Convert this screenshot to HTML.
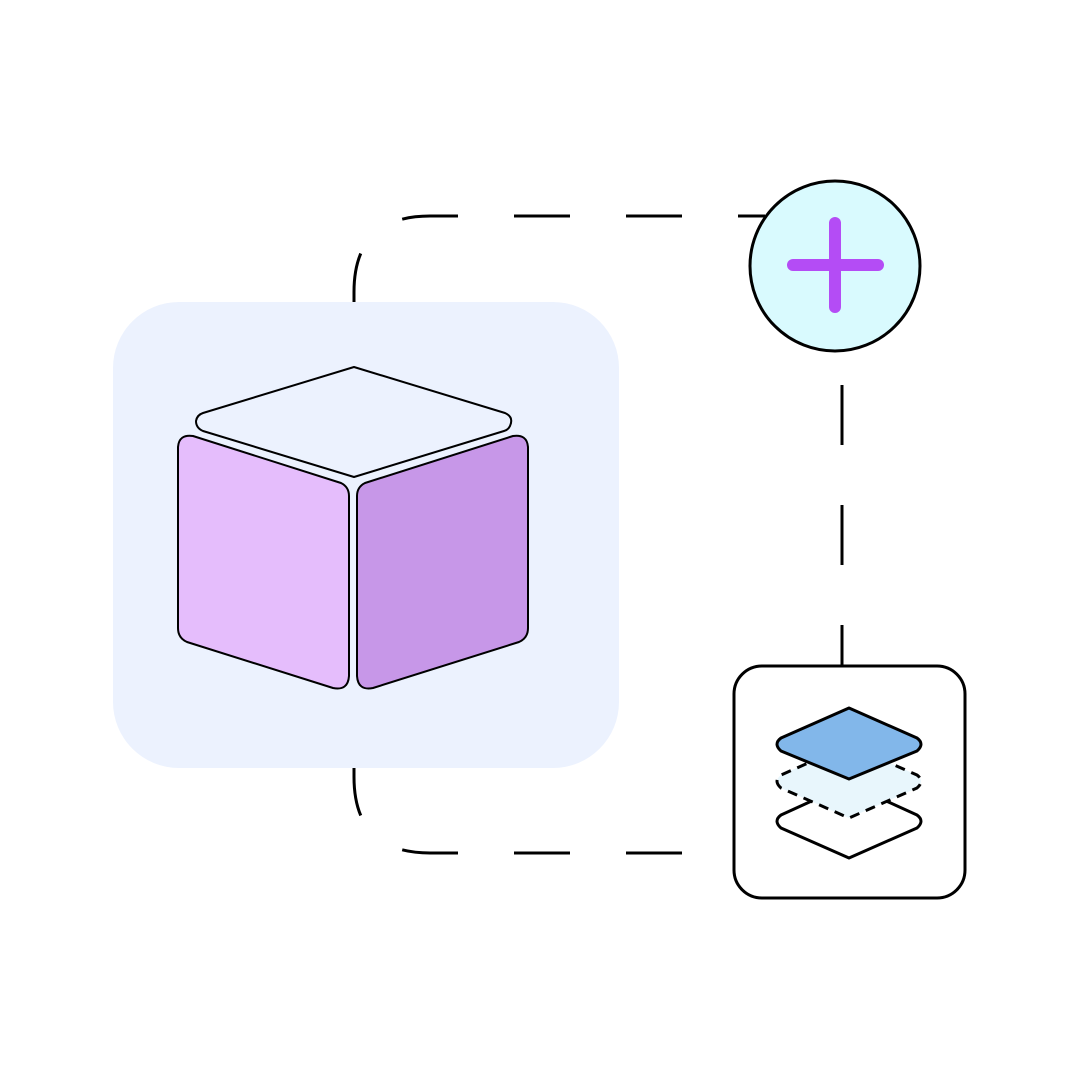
<!DOCTYPE html>
<html><head><style>body{margin:0;background:#fff}</style></head><body>
<svg width="1080" height="1080" viewBox="0 0 1080 1080" xmlns="http://www.w3.org/2000/svg">
<rect x="113" y="302" width="506" height="466" rx="66" fill="#ecf2fe"/>
<g fill="none" stroke="#000" stroke-width="3">
<path d="M765,216 L430,216 Q354,216 354,292 L354,302" stroke-dasharray="56 56" stroke-dashoffset="29"/>
<path d="M682,853 L430,853 Q354,853 354,777 L354,768" stroke-dasharray="56 56"/>
<path d="M842,385 L842,666" stroke-dasharray="60 60"/>
</g>
<g stroke="#000" stroke-width="2" stroke-linejoin="round">
<path d="M354,367 L505,413 Q514,417 510,426 Q508,430 504,431 L354,477 L203,431 Q196,428 196,421 Q197,415 203,413 Z" fill="#ecf2fe"/>
<path d="M178,447 Q179,434 193,436 L341,483 Q349,487 349,496 L349,676 Q348,691 333,688 L187,642 Q178,638 178,628 Z" fill="#e5bdfc"/>
<path d="M528,447 Q527,434 513,436 L365,483 Q357,487 357,496 L357,676 Q358,691 373,688 L519,642 Q528,638 528,628 Z" fill="#c797e8"/>
</g>
<circle cx="835" cy="266" r="85" fill="#d9fafe" stroke="#000" stroke-width="3"/>
<g stroke="#b44cf5" stroke-width="12" stroke-linecap="round">
<line x1="835" y1="223" x2="835" y2="307"/><line x1="793" y1="265" x2="878" y2="265"/>
</g>
<rect x="734" y="666" width="231" height="232" rx="28" fill="#fff" stroke="#000" stroke-width="3"/>
<g stroke="#000" stroke-width="3" stroke-linejoin="round">
<path d="M849,784 L917,815 Q925,821 917,828 L849,858 L781,828 Q773,821 781,815 Z" fill="#fff"/>
<path d="M849,745 L917,775 Q925,781 917,788 L849,818 L781,788 Q773,781 781,775 Z" fill="#e8f6fc" stroke-dasharray="10 7"/>
<path d="M849,708 L917,738 Q925,744 917,751 L849,779 L781,751 Q773,744 781,738 Z" fill="#82b7ea"/>
</g>
</svg>
</body></html>
